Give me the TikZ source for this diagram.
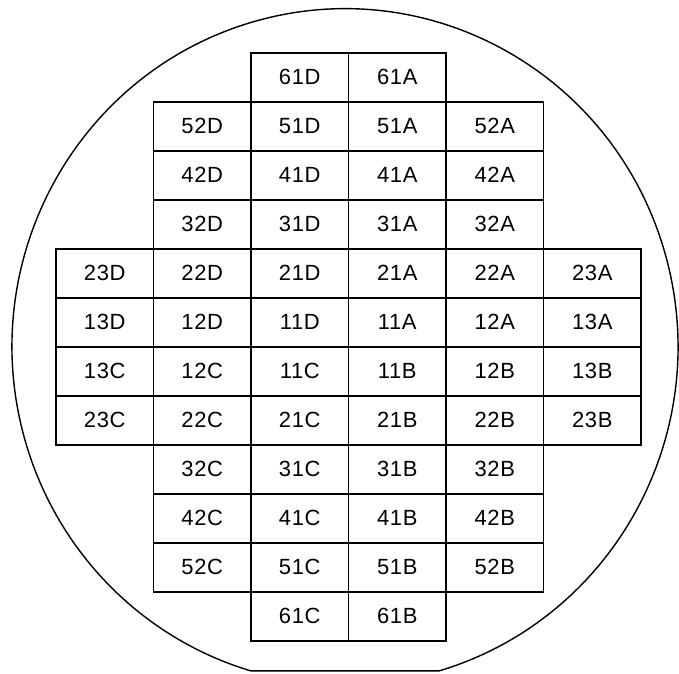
\documentclass[tikz,border=0pt]{standalone}
\usepackage{fontspec}
\setmainfont{Liberation Sans}
\newfontfamily\diefont[LetterSpace=3]{Liberation Sans}
\usetikzlibrary{positioning}

\begin{document}
\begin{tikzpicture}[
    font=\diefont\fontsize{12.5}{14}\selectfont,
    die/.style={
        draw,
        line width=1.1pt,
        inner sep=0pt,
        outer sep=0pt,
        align=center,
        minimum width=1.95cm,
        minimum height=0.98cm
    },
    waferline/.style={
        draw,
        line width=0.8pt
    }
]

\useasboundingbox (-6.97,-6.526) rectangle (6.61,6.934);

% wafer outline with flat
\coordinate (wafer) at (-0.07,0);
\draw[waferline] ([shift={(-73.6:6.66 and 6.76)}]wafer)
    arc[start angle=-73.6, end angle=253.6, x radius=6.66, y radius=6.76] -- cycle;

% =========================
% top: rows 61 -- 32
% =========================
\node[die] (d61D) at (-0.975,5.39) {61D};
\node[die] (d61A) at (0.975,5.39) {61A};

\node[die] (d52D) at (-2.925,4.41) {52D};
\node[die] (d51D) at (-0.975,4.41) {51D};
\node[die] (d51A) at (0.975,4.41) {51A};
\node[die] (d52A) at (2.925,4.41) {52A};

\node[die] (d42D) at (-2.925,3.43) {42D};
\node[die] (d41D) at (-0.975,3.43) {41D};
\node[die] (d41A) at (0.975,3.43) {41A};
\node[die] (d42A) at (2.925,3.43) {42A};

\node[die] (d32D) at (-2.925,2.45) {32D};
\node[die] (d31D) at (-0.975,2.45) {31D};
\node[die] (d31A) at (0.975,2.45) {31A};
\node[die] (d32A) at (2.925,2.45) {32A};

% =========================
% middle: rows 23 -- 13
% =========================
\node[die] (d23D) at (-4.875,1.47) {23D};
\node[die] (d22D) at (-2.925,1.47) {22D};
\node[die] (d21D) at (-0.975,1.47) {21D};
\node[die] (d21A) at (0.975,1.47) {21A};
\node[die] (d22A) at (2.925,1.47) {22A};
\node[die] (d23A) at (4.875,1.47) {23A};

\node[die] (d13D) at (-4.875,0.49) {13D};
\node[die] (d12D) at (-2.925,0.49) {12D};
\node[die] (d11D) at (-0.975,0.49) {11D};
\node[die] (d11A) at (0.975,0.49) {11A};
\node[die] (d12A) at (2.925,0.49) {12A};
\node[die] (d13A) at (4.875,0.49) {13A};

\node[die] (d13C) at (-4.875,-0.49) {13C};
\node[die] (d12C) at (-2.925,-0.49) {12C};
\node[die] (d11C) at (-0.975,-0.49) {11C};
\node[die] (d11B) at (0.975,-0.49) {11B};
\node[die] (d12B) at (2.925,-0.49) {12B};
\node[die] (d13B) at (4.875,-0.49) {13B};

\node[die] (d23C) at (-4.875,-1.47) {23C};
\node[die] (d22C) at (-2.925,-1.47) {22C};
\node[die] (d21C) at (-0.975,-1.47) {21C};
\node[die] (d21B) at (0.975,-1.47) {21B};
\node[die] (d22B) at (2.925,-1.47) {22B};
\node[die] (d23B) at (4.875,-1.47) {23B};

% =========================
% bottom: rows 32 -- 61
% =========================
\node[die] (d32C) at (-2.925,-2.45) {32C};
\node[die] (d31C) at (-0.975,-2.45) {31C};
\node[die] (d31B) at (0.975,-2.45) {31B};
\node[die] (d32B) at (2.925,-2.45) {32B};

\node[die] (d42C) at (-2.925,-3.43) {42C};
\node[die] (d41C) at (-0.975,-3.43) {41C};
\node[die] (d41B) at (0.975,-3.43) {41B};
\node[die] (d42B) at (2.925,-3.43) {42B};

\node[die] (d52C) at (-2.925,-4.41) {52C};
\node[die] (d51C) at (-0.975,-4.41) {51C};
\node[die] (d51B) at (0.975,-4.41) {51B};
\node[die] (d52B) at (2.925,-4.41) {52B};

\node[die] (d61C) at (-0.975,-5.39) {61C};
\node[die] (d61B) at (0.975,-5.39) {61B};

\end{tikzpicture}
\end{document}
